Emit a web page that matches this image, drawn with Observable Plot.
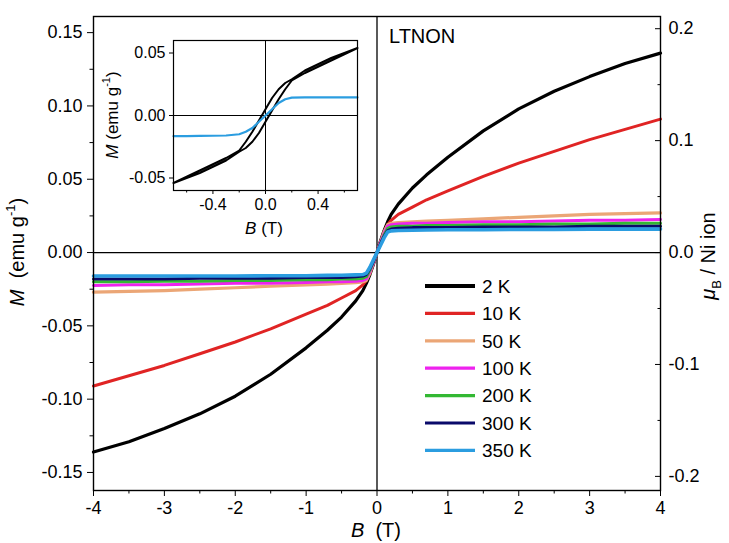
<!DOCTYPE html>
<html><head><meta charset="utf-8">
<script src="https://cdn.jsdelivr.net/npm/d3@7"></script>
<script src="https://cdn.jsdelivr.net/npm/@observablehq/plot@0.6"></script>
<style>
body{margin:0;background:#fff;}
#wrap{position:relative;width:729px;height:543px;overflow:hidden;background:#fff;}
#inset{position:absolute;left:110px;top:28px;}
svg{overflow:visible;}
</style></head><body><div id="wrap"><div id="main"></div><div id="inset"></div></div>
<script>
// ---------- data ----------
const temps = ["2 K","10 K","50 K","100 K","200 K","300 K","350 K"];
const tempColors = ["#000000","#e02424","#eba676","#ee22ee","#33b833","#0a0a6a","#2b9de0"];
const fieldsMain = [-4,-3.5,-3,-2.5,-2,-1.5,-1,-0.7,-0.5,-0.3,-0.2,-0.15,-0.1,-0.05,0,0.05,0.1,0.15,0.2,0.3,0.5,0.7,1,1.5,2,2.5,3,3.5,4];
const m2K   = [-0.136,-0.129,-0.120,-0.110,-0.098,-0.083,-0.065,-0.053,-0.044,-0.033,-0.026,-0.021,-0.015,-0.008,0,0.008,0.015,0.021,0.026,0.033,0.044,0.053,0.065,0.083,0.098,0.110,0.120,0.129,0.136];
const m10K  = [-0.091,-0.084,-0.077,-0.069,-0.061,-0.052,-0.042,-0.036,-0.031,-0.026,-0.022,-0.019,-0.014,-0.007,0,0.007,0.014,0.019,0.022,0.026,0.031,0.036,0.042,0.052,0.061,0.069,0.077,0.084,0.091];
const m50K  = [-0.027,-0.0265,-0.026,-0.025,-0.024,-0.023,-0.022,-0.0215,-0.021,-0.0205,-0.020,-0.019,-0.014,-0.007,0,0.007,0.014,0.019,0.020,0.0205,0.021,0.0215,0.022,0.023,0.024,0.025,0.026,0.0265,0.027];
const m100K = [-0.0225,-0.022,-0.022,-0.0215,-0.021,-0.021,-0.0205,-0.020,-0.020,-0.0195,-0.019,-0.018,-0.013,-0.007,0,0.007,0.013,0.018,0.019,0.0195,0.020,0.020,0.0205,0.021,0.021,0.0215,0.022,0.022,0.0225];
const m200K = [-0.020,-0.020,-0.0195,-0.0195,-0.019,-0.019,-0.0185,-0.0185,-0.018,-0.018,-0.0175,-0.0165,-0.012,-0.006,0,0.006,0.012,0.0165,0.0175,0.018,0.018,0.0185,0.0185,0.019,0.019,0.0195,0.0195,0.020,0.020];
const m300K = [-0.018,-0.018,-0.018,-0.0175,-0.0175,-0.0175,-0.017,-0.017,-0.017,-0.0165,-0.016,-0.015,-0.011,-0.006,0,0.006,0.011,0.015,0.016,0.0165,0.017,0.017,0.017,0.0175,0.0175,0.0175,0.018,0.018,0.018];
const m350K = [-0.016,-0.016,-0.016,-0.016,-0.016,-0.0158,-0.0158,-0.0156,-0.0155,-0.0152,-0.015,-0.014,-0.010,-0.005,0,0.005,0.010,0.014,0.0148,0.015,0.0152,0.0154,0.0155,0.0156,0.0157,0.0158,0.016,0.016,0.016];
const mainSeries = [m2K, m10K, m50K, m100K, m200K, m300K, m350K];

const xTicks = [-4,-3,-2,-1,0,1,2,3,4];
const xMinor = [-3.5,-2.5,-1.5,-0.5,0.5,1.5,2.5,3.5];
const yTicks = [-0.15,-0.10,-0.05,0,0.05,0.10,0.15];
const yMinor = [-0.125,-0.075,-0.025,0.025,0.075,0.125];
const muBTicks = [-0.2,-0.1,0,0.1,0.2];
const muBMinor = [-0.15,-0.05,0.05,0.15];
const muBPerEmu = 1.31; // μB per Ni ion for 1 emu/g

// inset data
const insetB = [-0.7,-0.6,-0.5,-0.4,-0.3,-0.2,-0.15,-0.1,-0.05,0,0.05,0.1,0.15,0.2,0.3,0.4,0.5,0.6,0.7];
const insetUp   = [-0.054,-0.050,-0.046,-0.041,-0.036,-0.029,-0.026,-0.021,-0.014,-0.005,0.004,0.013,0.021,0.028,0.034,0.039,0.044,0.049,0.054];
const insetDown = [-0.054,-0.049,-0.044,-0.039,-0.034,-0.028,-0.021,-0.013,-0.004,0.005,0.014,0.021,0.026,0.029,0.036,0.041,0.046,0.050,0.054];
const inset350  = [-0.0165,-0.0165,-0.0163,-0.0162,-0.016,-0.015,-0.013,-0.010,-0.005,0,0.005,0.010,0.013,0.0143,0.0145,0.0145,0.0145,0.0145,0.0145];
const insetXTicks = [-0.4,0,0.4];
const insetXMinor = [-0.6,-0.2,0.2,0.6];
const insetYTicks = [-0.05,0,0.05];

// ---------- build ----------
const font = "'Liberation Sans', Arial, Helvetica, sans-serif";
const noLabel = () => "";
const rows = [];
mainSeries.forEach((vals, s) => vals.forEach((m, i) => rows.push({B: fieldsMain[i], M: m, T: temps[s]})));
const widths = [3.2, 3, 3.2, 3, 3, 3, 3.6];

const main = Plot.plot({
  width: 729, height: 543,
  marginLeft: 93, marginRight: 69, marginTop: 16, marginBottom: 53,
  style: {fontFamily: font, fontSize: "18px", color: "black", background: "white", overflow: "visible"},
  x: {domain: [-4, 4]},
  y: {domain: [-0.1623, 0.161]},
  color: {domain: temps, range: tempColors},
  marks: [
    Plot.ruleY([0], {stroke: "black", strokeWidth: 1.3}),
    Plot.ruleX([0], {stroke: "black", strokeWidth: 1.3}),
    ...temps.map((t, s) => Plot.line(rows.filter(r => r.T === t), {x: "B", y: "M", stroke: "T", strokeWidth: widths[s], strokeLinejoin: "round"})),
    Plot.frame({stroke: "black", strokeWidth: 1.4}),
    Plot.axisX({ticks: xTicks, tickSize: 6, tickPadding: 5, tickFormat: d => String(d), label: null}),
    Plot.axisX({ticks: xMinor, tickSize: 3.5, tickFormat: noLabel, label: null}),
    Plot.axisY({ticks: yTicks, tickSize: 6, tickPadding: 5, tickFormat: d => d.toFixed(2), label: null}),
    Plot.axisY({ticks: yMinor, tickSize: 3.5, tickFormat: noLabel, label: null}),
    Plot.axisY({anchor: "right", ticks: muBTicks.map(v => v / muBPerEmu), tickSize: -6, tickPadding: 14, tickFormat: d => (d * muBPerEmu).toFixed(1), label: null}),
    Plot.axisY({anchor: "right", ticks: muBMinor.map(v => v / muBPerEmu), tickSize: -3.5, tickFormat: noLabel, label: null})
  ]
});
document.getElementById("main").appendChild(main);

function rich(sel, parts, fs) {
  let shift = 0;
  parts.forEach(p => {
    const t = sel.append("tspan").text(p.t);
    if (p.i) t.attr("font-style", "italic");
    const want = p.sup ? -0.45 : p.sub ? 0.3 : 0;
    if (want !== shift) { t.attr("dy", (want - shift) * fs + "px"); shift = want; }
    if (p.sup || p.sub) t.attr("font-size", "0.65em");
  });
}
const svg = d3.select(main);
// axis titles
rich(svg.append("text").attr("transform", "translate(24,252) rotate(-90)").attr("text-anchor", "middle")
  .attr("font-size", 20).attr("font-family", font),
  [{t: "M", i: true}, {t: "  (emu g"}, {t: "-1", sup: true}, {t: ")"}], 20);
rich(svg.append("text").attr("x", 376).attr("y", 537).attr("text-anchor", "middle")
  .attr("font-size", 20).attr("font-family", font),
  [{t: "B", i: true}, {t: "  (T)"}], 20);
rich(svg.append("text").attr("transform", "translate(715,256) rotate(-90)").attr("text-anchor", "middle")
  .attr("font-size", 20).attr("font-family", font),
  [{t: "μ", i: true}, {t: "B", sub: true}, {t: " / Ni ion"}], 20);
svg.append("text").attr("x", 389).attr("y", 43).attr("text-anchor", "start").attr("font-size", 20).attr("font-family", font).text("LTNON");

// legend
const lg = svg.append("g").attr("font-family", font).attr("font-size", 19).attr("text-anchor", "start");
temps.forEach((t, i) => {
  const y = 286 + i * 27.4;
  lg.append("line").attr("x1", 425).attr("x2", 475).attr("y1", y).attr("y2", y)
    .attr("stroke", tempColors[i]).attr("stroke-width", i === 0 ? 4 : 3.2);
  lg.append("text").attr("x", 482).attr("y", y).attr("dy", "0.36em").text(t);
});

// ---------- inset ----------
const irows = [];
insetB.forEach((b, i) => irows.push({B: b, M: insetUp[i]}));
insetB.slice().reverse().forEach((b, j) => irows.push({B: b, M: insetDown[insetB.length - 1 - j]}));
const brows = insetB.map((b, i) => ({B: b, M: inset350[i]}));
const inset = Plot.plot({
  width: 255, height: 220,
  marginLeft: 63, marginRight: 8, marginTop: 12, marginBottom: 58,
  style: {fontFamily: font, fontSize: "16px", color: "black", background: "transparent", overflow: "visible"},
  x: {domain: [-0.7, 0.7]},
  y: {domain: [-0.06, 0.06]},
  marks: [
    Plot.ruleY([0], {stroke: "black", strokeWidth: 1}),
    Plot.ruleX([0], {stroke: "black", strokeWidth: 1}),
    Plot.line(irows, {x: "B", y: "M", stroke: "black", strokeWidth: 2}),
    Plot.line(brows, {x: "B", y: "M", stroke: tempColors[6], strokeWidth: 2.2}),
    Plot.frame({stroke: "black", strokeWidth: 1.2}),
    Plot.axisX({ticks: insetXTicks, tickSize: 4, tickPadding: 4, tickFormat: d => d.toFixed(1), label: null}),
    Plot.axisX({ticks: insetXMinor, tickSize: 2.5, tickFormat: noLabel, label: null}),
    Plot.axisY({ticks: insetYTicks, tickSize: 4, tickPadding: 4, tickFormat: d => d.toFixed(2), label: null})
  ]
});
document.getElementById("inset").appendChild(inset);
const isvg = d3.select(inset);
rich(isvg.append("text").attr("transform", "translate(8,87) rotate(-90)").attr("text-anchor", "middle")
  .attr("font-size", 17).attr("font-family", font),
  [{t: "M", i: true}, {t: " (emu g"}, {t: "-1", sup: true}, {t: ")"}], 17);
rich(isvg.append("text").attr("x", 154).attr("y", 206).attr("text-anchor", "middle")
  .attr("font-size", 17).attr("font-family", font),
  [{t: "B", i: true}, {t: " (T)"}], 17);
</script></body></html>
